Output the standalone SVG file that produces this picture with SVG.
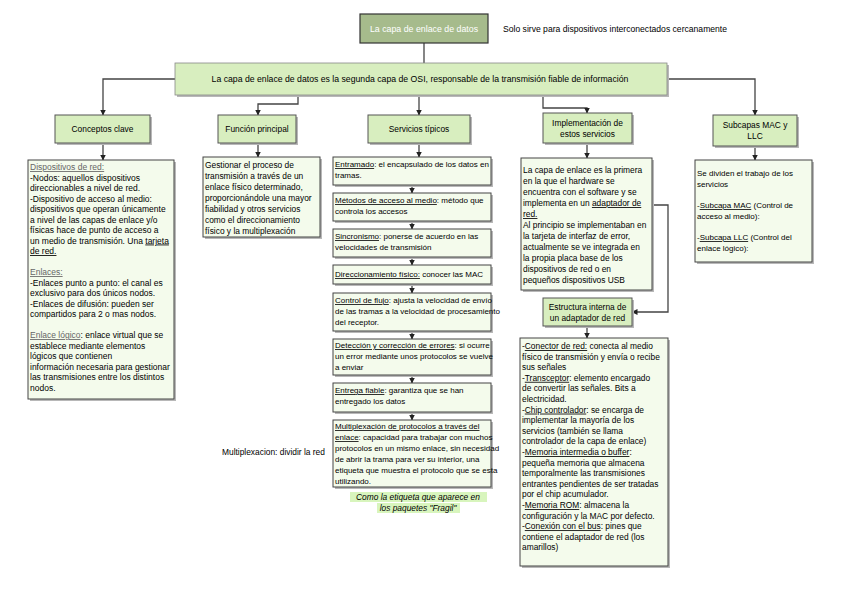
<svg xmlns="http://www.w3.org/2000/svg" width="848" height="602" viewBox="0 0 848 602">
<style>
.hdr{fill:#d8eebf;stroke:#555;stroke-width:1}
.box{fill:#f4fbec;stroke:#444;stroke-width:1}
.sh{fill:#b8b8b8}
.t{font-family:"Liberation Sans",Arial,sans-serif;font-size:8px;fill:#000}
.m{font-size:8.4px}
.l{font-size:8.6px}
.c{text-anchor:middle}
.u{text-decoration:underline}
.g{fill:#666}
.conn{stroke:#444;stroke-width:1.3;fill:none}
.ar{marker-end:url(#ah)}
</style>
<defs>
<marker id="ah" markerWidth="6" markerHeight="6" refX="5.5" refY="3" orient="auto" markerUnits="userSpaceOnUse">
<path d="M0,0 L6,3 L0,6 z" fill="#222"/>
</marker>
</defs>
<rect width="848" height="602" fill="#fff"/>

<g id="connectors">
<path class="conn" d="M424,43 V63"/>
<path class="conn ar" d="M175,79 H103 V115"/>
<path class="conn ar" d="M667,79 H755 V115"/>
<path class="conn ar" d="M298,95 V104 H258 V115"/>
<path class="conn ar" d="M419,95 V115"/>
<path class="conn ar" d="M543,95 V108 H587 V113"/>
<path class="conn ar" d="M103,143 V160"/>
<path class="conn ar" d="M258,143 V157"/>
<path class="conn ar" d="M419,143 V157"/>
<path class="conn ar" d="M412,185 V193"/>
<path class="conn ar" d="M412,221 V229"/>
<path class="conn ar" d="M412,257 V265"/>
<path class="conn ar" d="M412,284 V293"/>
<path class="conn ar" d="M412,331 V339"/>
<path class="conn ar" d="M412,375 V383"/>
<path class="conn ar" d="M412,412 V420"/>
<path class="conn ar" d="M587,143 V158"/>
<path class="conn ar" d="M652,205 H668 V312 H632"/>
<path class="conn ar" d="M587,326 V338"/>
<path class="conn ar" d="M755,146 V160"/>
</g>

<g id="top">
<rect x="360" y="14" width="128" height="29" fill="#a6bb8c" stroke="#333" stroke-width="1.2"/>
<text class="t c" x="424" y="32" style="fill:#fff;font-size:8.8px">La capa de enlace de datos</text>
</g>
<g id="note-top">
<text class="t l" x="503" y="32">Solo sirve para dispositivos interconectados cercanamente</text>
</g>

<g id="banner">
<rect class="sh" x="177" y="65" width="492" height="32"/>
<rect x="175" y="63" width="492" height="32" fill="#d8eebf" stroke="#888" stroke-width="0.8"/>
<text class="t c" x="420" y="82" style="font-size:8.7px">La capa de enlace de datos es la segunda capa de OSI, responsable de la transmisión fiable de información</text>
</g>

<g id="conceptos">
<rect class="sh" x="57" y="117" width="95" height="28"/>
<rect class="hdr" x="55" y="115" width="95" height="28"/>
<text class="t c m" x="102.5" y="132">Conceptos clave</text>
</g>
<g id="conceptos-texto">
<rect class="sh" x="30" y="162" width="146" height="239"/>
<rect class="box" x="28" y="160" width="146" height="239"/>
<text class="t" x="30" y="170" style="font-size:8.5px">
<tspan class="u g">Dispositivos de red:</tspan>
<tspan x="30" dy="10.5">-Nodos: aquellos dispositivos</tspan>
<tspan x="30" dy="10.5">direccionables a nivel de red.</tspan>
<tspan x="30" dy="10.5">-Dispositivo de acceso al medio:</tspan>
<tspan x="30" dy="10.5">dispositivos que operan únicamente</tspan>
<tspan x="30" dy="10.5">a nivel de las capas de enlace y/o</tspan>
<tspan x="30" dy="10.5">físicas hace de punto de acceso a</tspan>
<tspan x="30" dy="10.5">un medio de transmisión. Una <tspan class="u">tarjeta</tspan></tspan>
<tspan x="30" dy="10.5" class="u">de red.</tspan>
<tspan x="30" dy="21" class="u g">Enlaces:</tspan>
<tspan x="30" dy="10.5">-Enlaces punto a punto: el canal es</tspan>
<tspan x="30" dy="10.5">exclusivo para dos únicos nodos.</tspan>
<tspan x="30" dy="10.5">-Enlaces de difusión: pueden ser</tspan>
<tspan x="30" dy="10.5">compartidos para 2 o mas nodos.</tspan>
<tspan x="30" dy="21"><tspan class="u g">Enlace lógico</tspan>: enlace virtual que se</tspan>
<tspan x="30" dy="10.5">establece mediante elementos</tspan>
<tspan x="30" dy="10.5">lógicos que contienen</tspan>
<tspan x="30" dy="10.5">información necesaria para gestionar</tspan>
<tspan x="30" dy="10.5">las transmisiones entre los distintos</tspan>
<tspan x="30" dy="10.5">nodos.</tspan>
</text>
</g>

<g id="funcion">
<rect class="sh" x="220" y="117" width="78" height="28"/>
<rect class="hdr" x="218" y="115" width="78" height="28"/>
<text class="t c m" x="257" y="132">Función principal</text>
</g>
<g id="funcion-texto">
<rect class="sh" x="205" y="159" width="117" height="80"/>
<rect class="box" x="203" y="157" width="117" height="80"/>
<text class="t m" x="205" y="168">
<tspan>Gestionar el proceso de</tspan>
<tspan x="205" dy="11">transmisión a través de un</tspan>
<tspan x="205" dy="11">enlace físico determinado,</tspan>
<tspan x="205" dy="11">proporcionándole una mayor</tspan>
<tspan x="205" dy="11">fiabilidad y otros servicios</tspan>
<tspan x="205" dy="11">como el direccionamiento</tspan>
<tspan x="205" dy="11">físico y la multiplexación</tspan>
</text>
</g>

<g id="servicios">
<rect class="sh" x="370" y="117" width="102" height="28"/>
<rect class="hdr" x="368" y="115" width="102" height="28"/>
<text class="t c m" x="419" y="132">Servicios típicos</text>
</g>
<g id="s-entramado">
<rect class="sh" x="335" y="159" width="158" height="28"/>
<rect class="box" x="333" y="157" width="158" height="28"/>
<text class="t" x="335" y="167"><tspan class="u">Entramado</tspan>: el encapsulado de los datos en<tspan x="335" dy="11">tramas.</tspan></text>
</g>
<g id="s-metodos">
<rect class="sh" x="335" y="195" width="158" height="28"/>
<rect class="box" x="333" y="193" width="158" height="28"/>
<text class="t" x="335" y="203"><tspan class="u">Métodos de acceso al medio</tspan>: método que<tspan x="335" dy="11">controla los accesos</tspan></text>
</g>
<g id="s-sincronismo">
<rect class="sh" x="335" y="231" width="158" height="28"/>
<rect class="box" x="333" y="229" width="158" height="28"/>
<text class="t" x="335" y="239"><tspan class="u">Sincronismo</tspan>: ponerse de acuerdo en las<tspan x="335" dy="11">velocidades de transmisión</tspan></text>
</g>
<g id="s-direccionamiento">
<rect class="sh" x="335" y="267" width="158" height="19"/>
<rect class="box" x="333" y="265" width="158" height="19"/>
<text class="t" x="335" y="277"><tspan class="u">Direccionamiento físico:</tspan> conocer las MAC</text>
</g>
<g id="s-flujo">
<rect class="sh" x="335" y="295" width="158" height="38"/>
<rect class="box" x="333" y="293" width="158" height="38"/>
<text class="t" x="335" y="303"><tspan class="u">Control de flujo</tspan>: ajusta la velocidad de envío<tspan x="335" dy="11">de las tramas a la velocidad de procesamiento</tspan><tspan x="335" dy="11">del receptor.</tspan></text>
</g>
<g id="s-errores">
<rect class="sh" x="335" y="341" width="158" height="36"/>
<rect class="box" x="333" y="339" width="158" height="36"/>
<text class="t" x="335" y="348"><tspan class="u">Detección y corrección de errores</tspan>: si ocurre<tspan x="335" dy="11">un error mediante unos protocolos  se vuelve</tspan><tspan x="335" dy="11">a enviar</tspan></text>
</g>
<g id="s-entrega">
<rect class="sh" x="335" y="385" width="158" height="29"/>
<rect class="box" x="333" y="383" width="158" height="29"/>
<text class="t" x="335" y="393"><tspan class="u">Entrega fiable</tspan>: garantiza que se han<tspan x="335" dy="11">entregado los datos</tspan></text>
</g>
<g id="s-multiplexacion">
<rect class="sh" x="335" y="422" width="158" height="67"/>
<rect class="box" x="333" y="420" width="158" height="67"/>
<text class="t" x="335" y="429"><tspan class="u">Multiplexación de protocolos a través del</tspan><tspan x="335" dy="11"><tspan class="u">enlace</tspan>: capacidad para trabajar con muchos</tspan><tspan x="335" dy="11">protocolos en un mismo enlace, sin necesidad</tspan><tspan x="335" dy="11">de abrir la trama para ver su interior, una</tspan><tspan x="335" dy="11">etiqueta que muestra el protocolo que se esta</tspan><tspan x="335" dy="11">utilizando.</tspan></text>
</g>
<g id="nota-multiplexacion">
<text class="t m" x="222" y="455">Multiplexacion: dividir la red</text>
</g>
<g id="nota-fragil">
<rect x="350" y="492" width="137" height="10" fill="#d8f5bd"/>
<rect x="377" y="503" width="83" height="10" fill="#d8f5bd"/>
<text class="t c m" x="418" y="500" style="font-style:italic">Como la etiqueta que aparece en<tspan x="418" dy="11">los paquetes "Fragil"</tspan></text>
</g>

<g id="implementacion">
<rect class="sh" x="545" y="115" width="89" height="30"/>
<rect class="hdr" x="543" y="113" width="89" height="30"/>
<text class="t c m" x="587.5" y="126">Implementación de<tspan x="587.5" dy="11">estos servicios</tspan></text>
</g>
<g id="implementacion-texto">
<rect class="sh" x="523" y="160" width="131" height="132"/>
<rect class="box" x="521" y="158" width="131" height="132"/>
<text class="t m" x="523" y="173">
<tspan>La capa de enlace es la primera</tspan>
<tspan x="523" dy="11">en la que el hardware se</tspan>
<tspan x="523" dy="11">encuentra con el software y se</tspan>
<tspan x="523" dy="11">implementa en un <tspan class="u">adaptador de</tspan></tspan>
<tspan x="523" dy="11" class="u">red.</tspan>
<tspan x="523" dy="11">Al principio se implementaban en</tspan>
<tspan x="523" dy="11">la tarjeta de interfaz de error,</tspan>
<tspan x="523" dy="11">actualmente se ve integrada en</tspan>
<tspan x="523" dy="11">la propia placa base de los</tspan>
<tspan x="523" dy="11">dispositivos de red o en</tspan>
<tspan x="523" dy="11">pequeños dispositivos USB</tspan>
</text>
</g>

<g id="estructura">
<rect class="sh" x="545" y="300" width="89" height="28"/>
<rect class="hdr" x="543" y="298" width="89" height="28"/>
<text class="t c m" x="587.5" y="310">Estructura interna de<tspan x="587.5" dy="11">un adaptador de red</tspan></text>
</g>
<g id="estructura-texto">
<rect class="sh" x="522" y="340" width="148" height="228"/>
<rect class="box" x="520" y="338" width="148" height="228"/>
<text class="t m" x="522" y="349">
<tspan>-<tspan class="u">Conector de red:</tspan> conecta al medio</tspan>
<tspan x="522" dy="10.6">físico de transmisión y envía o recibe</tspan>
<tspan x="522" dy="10.6">sus señales</tspan>
<tspan x="522" dy="10.6">-<tspan class="u">Transceptor</tspan>: elemento encargado</tspan>
<tspan x="522" dy="10.6">de convertir las señales. Bits a</tspan>
<tspan x="522" dy="10.6">electricidad.</tspan>
<tspan x="522" dy="10.6">-<tspan class="u">Chip controlador</tspan>: se encarga de</tspan>
<tspan x="522" dy="10.6">implementar la mayoría de los</tspan>
<tspan x="522" dy="10.6">servicios (también se llama</tspan>
<tspan x="522" dy="10.6">controlador de la capa de enlace)</tspan>
<tspan x="522" dy="10.6">-<tspan class="u">Memoria intermedia o buffer</tspan>:</tspan>
<tspan x="522" dy="10.6">pequeña memoria que almacena</tspan>
<tspan x="522" dy="10.6">temporalmente las transmisiones</tspan>
<tspan x="522" dy="10.6">entrantes pendientes de ser tratadas</tspan>
<tspan x="522" dy="10.6">por el chip acumulador.</tspan>
<tspan x="522" dy="10.6">-<tspan class="u">Memoria ROM</tspan>: almacena la</tspan>
<tspan x="522" dy="10.6">configuración y la MAC por defecto.</tspan>
<tspan x="522" dy="10.6">-<tspan class="u">Conexión con el bus</tspan>: pines que</tspan>
<tspan x="522" dy="10.6">contiene el adaptador de red (los</tspan>
<tspan x="522" dy="10.6">amarillos)</tspan>
</text>
</g>

<g id="subcapas">
<rect class="sh" x="715" y="117" width="84" height="31"/>
<rect class="hdr" x="713" y="115" width="84" height="31"/>
<text class="t c m" x="755" y="128">Subcapas MAC y<tspan x="755" dy="11">LLC</tspan></text>
</g>
<g id="subcapas-texto">
<rect class="sh" x="697" y="162" width="117" height="102"/>
<rect class="box" x="695" y="160" width="117" height="102"/>
<text class="t" x="697" y="176">
<tspan>Se dividen el trabajo de los</tspan>
<tspan x="697" dy="11">servicios</tspan>
<tspan x="697" dy="21">-<tspan class="u">Subcapa MAC</tspan> (Control de</tspan>
<tspan x="697" dy="11">acceso al medio):</tspan>
<tspan x="697" dy="21">-<tspan class="u">Subcapa LLC</tspan> (Control del</tspan>
<tspan x="697" dy="11">enlace lógico):</tspan>
</text>
</g>
</svg>
